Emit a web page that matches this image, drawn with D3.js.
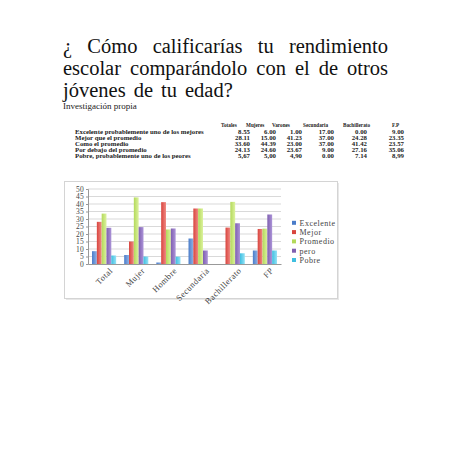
<!DOCTYPE html>
<html>
<head>
<meta charset="utf-8">
<script src="https://cdn.jsdelivr.net/npm/d3@7"></script>
<style>
  body { margin: 0; background: #fff; }
  svg { display: block; }
</style>
</head>
<body>
<script>
// chart data
const categories = ["Total", "Mujer", "Hombre", "Secundaria", "Bachillerato", "FP"];
const seriesNames = ["Excelente", "Mejor", "Promedio", "pero", "Pobre"];
const excelente = [8.55, 6.00, 1.00, 17.00, 0.00, 9.00];
const mejor = [28.11, 15.00, 41.23, 37.00, 24.28, 23.35];
const promedio = [33.60, 44.39, 23.00, 37.00, 41.42, 23.57];
const pero = [24.13, 24.60, 23.67, 9.00, 27.16, 33.00];
const pobre = [5.67, 5.00, 4.90, 0.00, 7.14, 8.99];
const yTicks = [0, 5, 10, 15, 20, 25, 30, 35, 40, 45, 50];

// table text
const tableHeaders = ["Totales", "Mujeres", "Varones", "Secundaria", "Bachillerato", "F.P"];
const rowLabels = [
  "Excelente probablemente uno de los mejores",
  "Mejor que el promedio",
  "Como el promedio",
  "Por debajo del promedio",
  "Pobre, probablemente uno de los peores"
];
const tableValues = [
  ["8.55", "6.00", "1.00", "17.00", "0.00", "9.00"],
  ["28.11", "15.00", "41.23", "37.00", "24.28", "23.35"],
  ["33.60", "44.39", "23.00", "37.00", "41.42", "23.57"],
  ["24.13", "24.60", "23.67", "9.00", "27.16", "35.06"],
  ["5,67", "5,00", "4,90", "0.00", "7.14", "8,99"]
];

const titleLines = [
  "¿ Cómo calificarías tu rendimiento",
  "escolar comparándolo con el de otros",
  "jóvenes de tu edad?"
];

const colors = [
  ["#4a7cc9", "#8fb2e6"],
  ["#d8443e", "#f08a84"],
  ["#b3d95a", "#dcf29e"],
  ["#7f5fb0", "#ac94d8"],
  ["#3fbfe0", "#94e2f6"]
];

const svg = d3.select("body").append("svg")
    .attr("width", 452)
    .attr("height", 452);

svg.append("rect").attr("width", 452).attr("height", 452).attr("fill", "#fff");

// title, first two lines justified
const serif = "'Liberation Serif', 'DejaVu Serif', serif";
const titleLeft = 63, titleRight = 388;
const titleBase = [53, 75, 96.5];
titleLines.forEach((line, li) => {
  const words = line.split(" ");
  const g = svg.append("g");
  const els = words.map(w => g.append("text")
      .text(w)
      .attr("y", titleBase[li])
      .style("font-family", serif)
      .style("font-size", "20.5px")
      .attr("fill", "#111"));
  const widths = els.map(e => e.node().getComputedTextLength());
  const total = d3.sum(widths);
  let gap = (titleRight - titleLeft - total) / (words.length - 1);
  if (li == titleLines.length - 1) gap = 8;
  let x = titleLeft;
  els.forEach((e, i) => {
    e.attr("x", x);
    x += widths[i] + gap;
  });
});

svg.append("text")
    .text("Investigación propia")
    .attr("x", 63)
    .attr("y", 109)
    .style("font-family", serif)
    .style("font-size", "9px")
    .attr("fill", "#222");

// table
const colRight = [250, 276, 302, 334, 367, 404];
const headerX = [221, 246, 272, 303, 343, 392];
tableHeaders.forEach((h, i) => {
  svg.append("text")
      .text(h)
      .attr("x", headerX[i])
      .attr("y", 127)
      .style("font-family", serif)
      .style("font-size", "5.2px")
      .style("font-weight", "bold")
      .attr("fill", "#222");
});
rowLabels.forEach((r, ri) => {
  const y = 133.5 + ri * 6.1;
  svg.append("text")
      .text(r)
      .attr("x", 75)
      .attr("y", y)
      .style("font-family", serif)
      .style("font-size", "6.8px")
      .style("font-weight", "bold")
      .attr("fill", "#222");
  tableValues[ri].forEach((v, ci) => {
    svg.append("text")
        .text(v)
        .attr("x", colRight[ci])
        .attr("y", y)
        .attr("text-anchor", "end")
        .style("font-family", serif)
        .style("font-size", "6.8px")
        .style("font-weight", "bold")
        .attr("fill", "#222");
  });
});

// chart frame
svg.append("rect")
    .attr("x", 66).attr("y", 183)
    .attr("width", 273).attr("height", 117)
    .attr("fill", "#e8e8e8");
svg.append("rect")
    .attr("x", 64.5).attr("y", 181.5)
    .attr("width", 273).attr("height", 117)
    .attr("fill", "#fff")
    .attr("stroke", "#d4d4d4");

const seriesData = [excelente, mejor, promedio, pero, pobre];

const x0 = d3.scaleBand()
    .domain(categories)
    .range([88, 281])
    .paddingInner(0.25)
    .paddingOuter(0.125);
const x1 = d3.scaleBand()
    .domain(seriesNames)
    .range([0, x0.bandwidth()]);
const y = d3.scaleLinear().domain([0, 50]).range([264, 189]);

const defs = svg.append("defs");
colors.forEach((c, i) => {
  const grad = defs.append("linearGradient")
      .attr("id", "g" + i)
      .attr("x1", "0%").attr("x2", "100%")
      .attr("y1", "0%").attr("y2", "0%");
  grad.append("stop").attr("offset", "0%").attr("stop-color", c[0]);
  grad.append("stop").attr("offset", "100%").attr("stop-color", c[1]);
});

// grid
svg.append("g")
    .selectAll("line")
    .data(yTicks.slice(1))
    .enter().append("line")
    .attr("x1", 88).attr("x2", 281)
    .attr("y1", d => y(d)).attr("y2", d => y(d))
    .attr("stroke", "#c8c8c8")
    .attr("stroke-width", 0.7);

// y axis
const yAxis = svg.append("g")
    .attr("transform", "translate(88,0)")
    .call(d3.axisLeft(y).tickValues(yTicks).tickSize(2).tickPadding(2));
yAxis.select(".domain").attr("stroke", "#999");
yAxis.selectAll(".tick line").attr("stroke", "#999");
yAxis.selectAll("text")
    .style("font-family", serif)
    .style("font-size", "7.5px")
    .style("letter-spacing", "0.3px")
    .attr("fill", "#444");

// bars
seriesData.forEach((vals, si) => {
  svg.append("g")
      .selectAll("rect")
      .data(vals)
      .enter().append("rect")
      .attr("x", (d, i) => x0(categories[i]) + x1(seriesNames[si]))
      .attr("y", d => y(d))
      .attr("width", x1.bandwidth())
      .attr("height", d => y(0) - y(d))
      .attr("fill", "url(#g" + si + ")");
});

// x axis
const xAxis = svg.append("g")
    .attr("transform", "translate(0,264)")
    .call(d3.axisBottom(x0).tickSize(0).tickPadding(5));
xAxis.select(".domain").attr("stroke", "#999");
xAxis.selectAll("text")
    .style("font-family", serif)
    .style("font-size", "8.5px")
    .style("letter-spacing", "0.5px")
    .attr("fill", "#444")
    .attr("text-anchor", "end")
    .attr("transform", "translate(2,0) rotate(-45)")
    .attr("dy", "0.6em");

// legend
const legend = svg.append("g");
seriesNames.forEach((s, i) => {
  const ly = 223 + i * 9.3;
  legend.append("rect")
      .attr("x", 292).attr("y", ly - 2.2)
      .attr("width", 4).attr("height", 4)
      .attr("fill", colors[i][0]);
  legend.append("text")
      .text(s)
      .attr("x", 299.5).attr("y", ly + 2.6)
      .style("font-family", serif)
      .style("font-size", "8px")
      .style("letter-spacing", "0.5px")
      .attr("fill", "#444");
});
</script>
</body>
</html>
